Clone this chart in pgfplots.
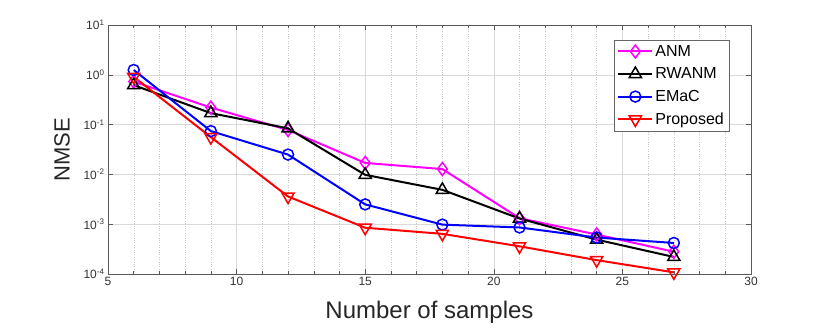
\documentclass[border=0pt]{standalone}
\usepackage{fontspec}
\setmainfont{Liberation Sans}
\usepackage{pgfplots}
\pgfplotsset{compat=1.18}
\definecolor{mmag}{rgb}{1,0,1}
\definecolor{mblue}{rgb}{0,0,1}
\definecolor{mred}{rgb}{1,0,0}
\begin{document}
\begin{tikzpicture}
\useasboundingbox (-108pt,-58pt) rectangle (722pt,274pt);
\begin{axis}[
  at={(0pt,0pt)}, anchor=south west,
  scale only axis, width=643pt, height=249pt,
  xmin=5, xmax=30, ymode=log, log basis y=10, ymin=1e-4, ymax=10,
  xtick={5,10,...,30}, minor x tick num=4,
  ytick={1e-4,1e-3,1e-2,1e-1,1,10},
  yticklabel={\pgfmathparse{int(round(\tick))}10\textsuperscript{\pgfmathresult}},
  /pgf/number format/assume math mode=true,
  tick label style={font=\fontsize{12}{14}\selectfont, text=black!80},
  grid=both,
  major grid style={black!15, line width=0.5pt},
  minor grid style={black!22, dotted, line width=0.4pt},
  axis line style={black!65, line width=0.6pt},
  tick style={black!65, line width=0.5pt},
  major tick length=5pt, minor tick length=3pt,
  tick align=inside,
  xlabel={Number of samples}, ylabel={NMSE},
  xlabel style={font=\fontsize{24}{26}\selectfont, text=black!85, at={(axis description cs:0.5,-0.153)}, anchor=center},
  ylabel style={font=\fontsize{22}{24}\selectfont, text=black!85, at={(axis description cs:-0.0715,0.5)}, anchor=center},
  legend style={at={(axis description cs:0.966,0.94)}, anchor=north east,
    font=\fontsize{16}{18}\selectfont, draw=black!60, line width=0.6pt, row sep=6pt, inner sep=3pt},
  legend cell align=left,
  legend image code/.code={\draw[mark repeat=2,mark phase=2,#1] plot coordinates {(0pt,0pt)(17pt,0pt)(34pt,0pt)};},
  every axis plot/.append style={line width=2pt},
]
\addplot[color=mmag, mark=diamond, mark size=6.5pt, mark options={solid, line width=1.5pt}]
  coordinates {(6,0.73)(9,0.22)(12,0.078)(15,0.017)(18,0.0128)(21,0.00132)(24,0.00062)(27,0.00028)};
\addlegendentry{ANM}
\addplot[color=black, mark=triangle, mark size=7pt, mark options={solid, line width=1.5pt}]
  coordinates {(6,0.62)(9,0.17)(12,0.084)(15,0.0098)(18,0.0049)(21,0.0013)(24,0.00049)(27,0.00022)};
\addlegendentry{RWANM}
\addplot[color=mblue, mark=o, mark size=5.5pt, mark options={solid, line width=1.5pt}]
  coordinates {(6,1.25)(9,0.074)(12,0.025)(15,0.0025)(18,0.00098)(21,0.00086)(24,0.00054)(27,0.00042)};
\addlegendentry{EMaC}
\addplot[color=mred, mark=triangle, mark size=7pt, mark options={solid, line width=1.5pt, rotate=180}]
  coordinates {(6,0.91)(9,0.056)(12,0.0036)(15,0.00085)(18,0.00064)(21,0.00036)(24,0.00019)(27,0.000108)};
\addlegendentry{Proposed}
\end{axis}
\end{tikzpicture}
\end{document}
